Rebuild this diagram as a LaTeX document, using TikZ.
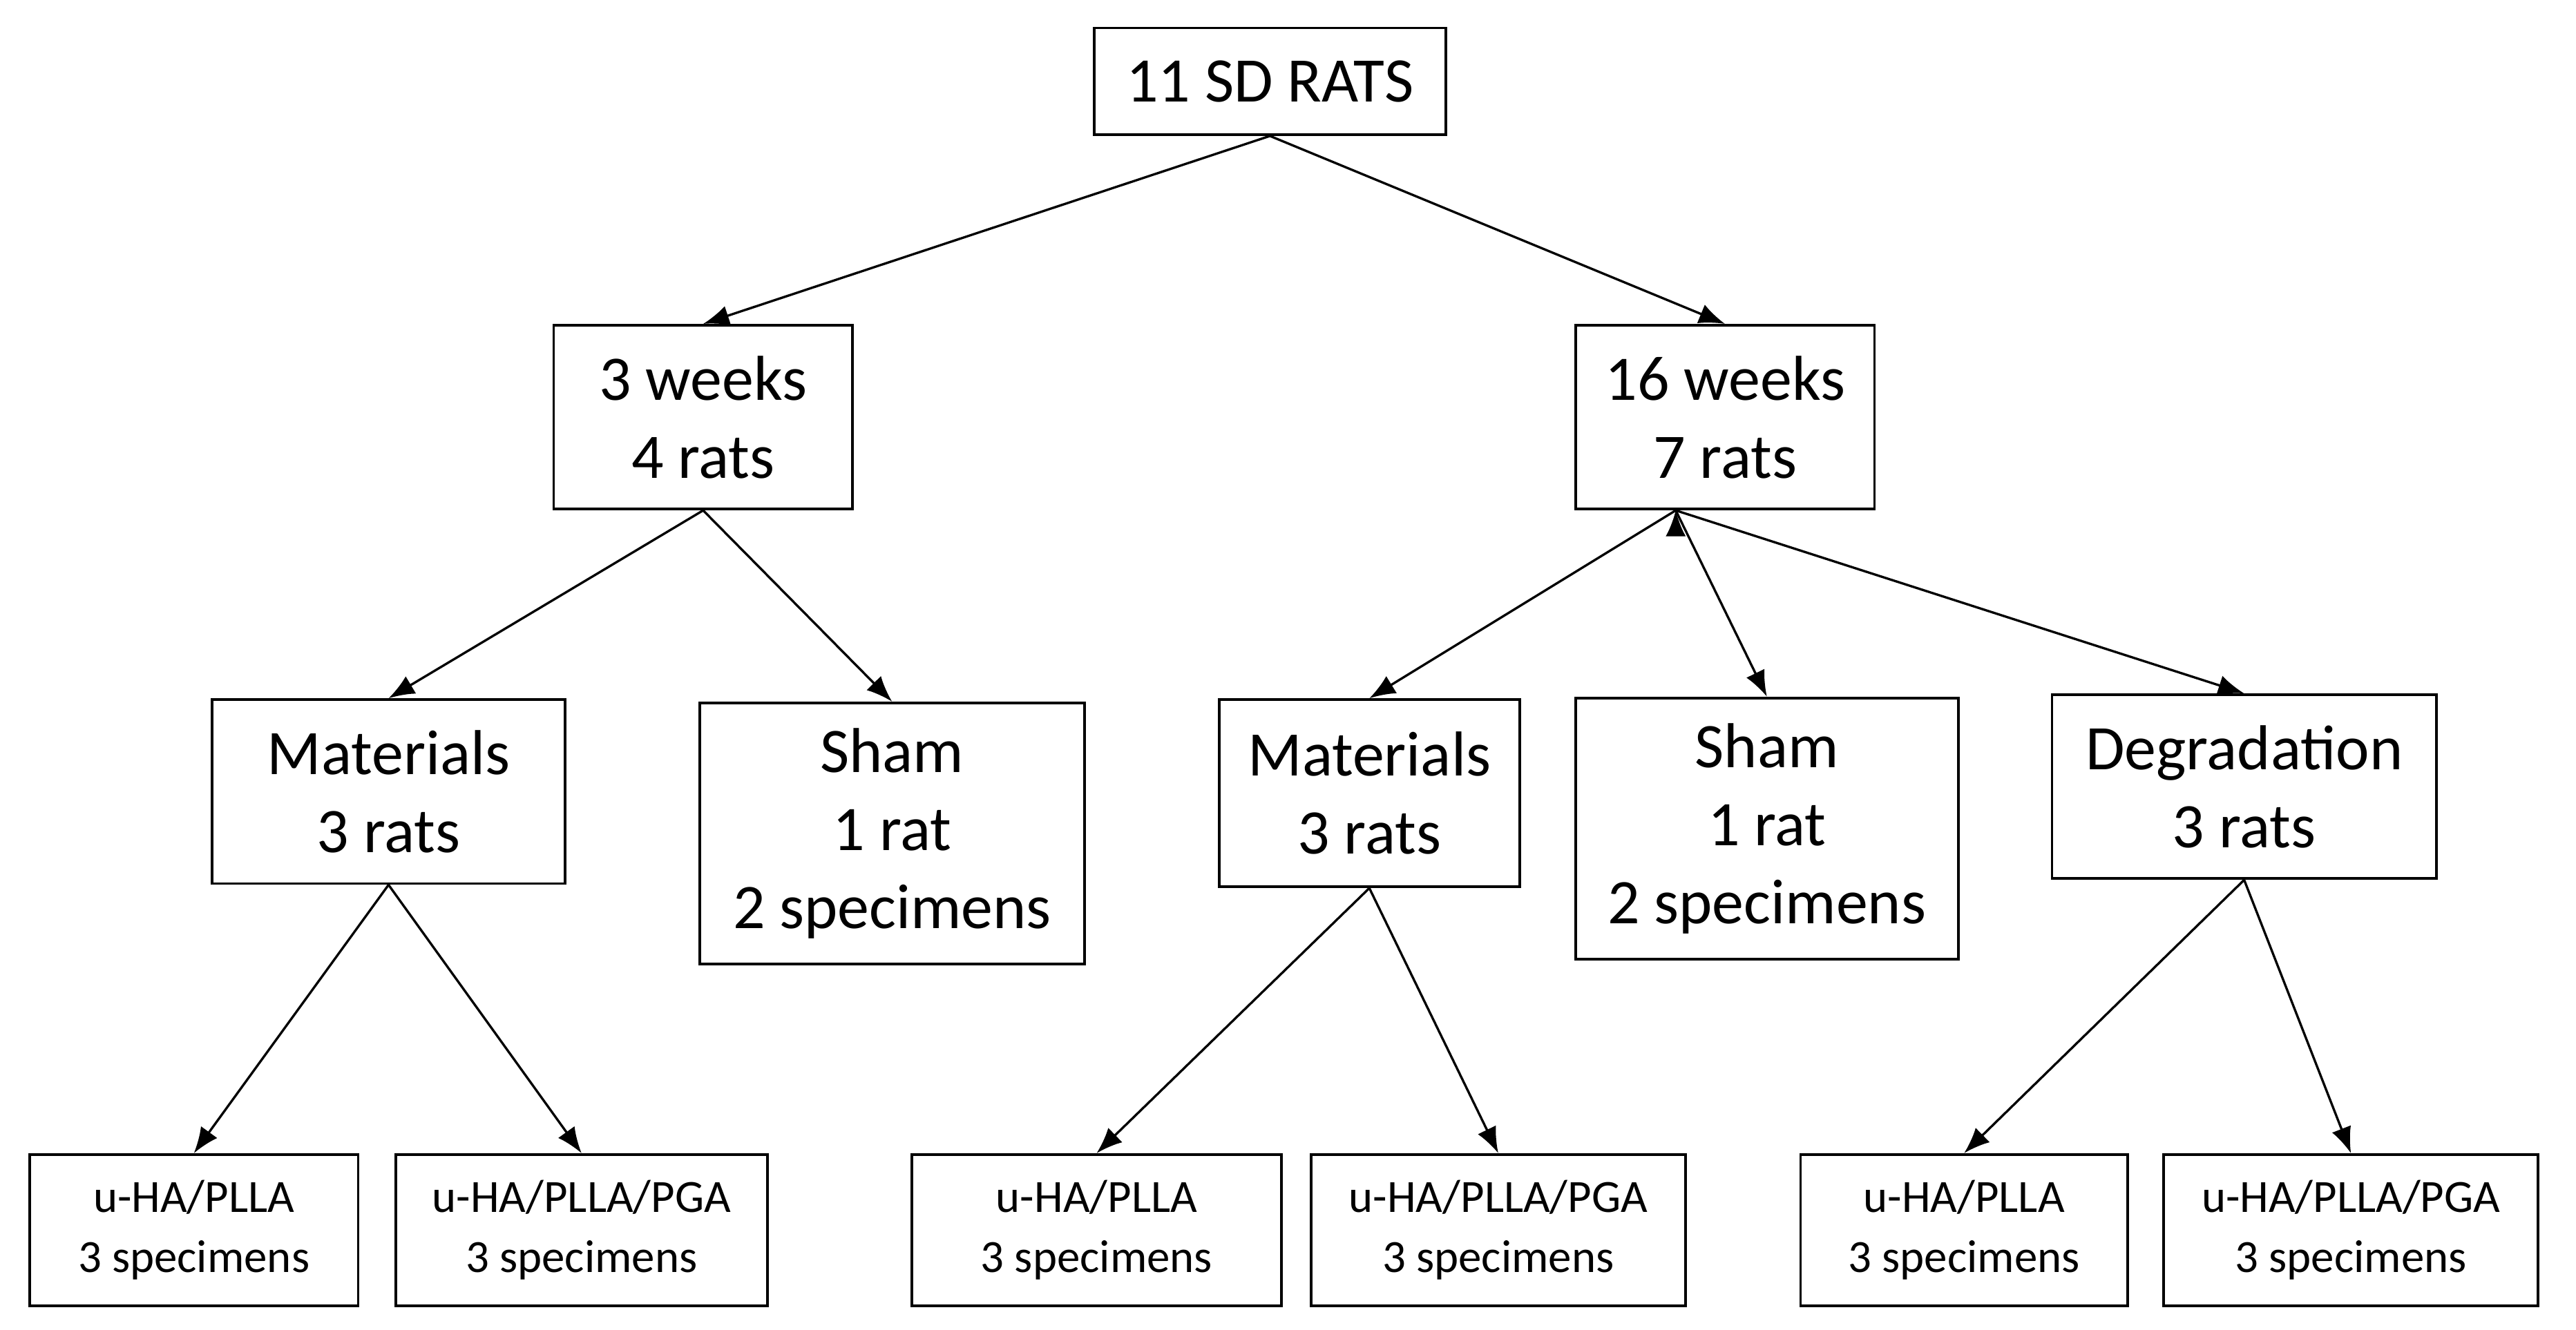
\documentclass[tikz,border=0pt]{standalone}
\usepackage{fontspec}
\setmainfont{Carlito}
\usetikzlibrary{arrows.meta}
\begin{document}
\begin{tikzpicture}[x=0.02cm,y=-0.02cm,
  box/.style 2 args={draw,line width=0.9pt,inner sep=0pt,align=center,minimum width=#1*0.02cm,minimum height=#2*0.02cm},
  big/.style={font=\fontsize{22pt}{27pt}\selectfont},
  small/.style={font=\fontsize{16pt}{21pt}\selectfont},
  arr/.style={-{Latex[length=9pt,width=7pt]},line width=0.8pt}]
\useasboundingbox (0,0) rectangle (1568,809.5);
\node[box={214}{65},big] (top) at (773,49.5) {11 SD RATS};
\node[box={182}{112},big] (w3) at (428,254) {3 weeks\\4 rats};
\node[box={182}{112},big] (w16) at (1050,254) {16 weeks\\7 rats};
\node[box={215}{112},big] (ml) at (236.5,482) {Materials\\3 rats};
\node[box={234}{159},big] (sl) at (543,507.5) {Sham\\1 rat\\2 specimens};
\node[box={183}{114},big] (mm) at (833.5,483) {Materials\\3 rats};
\node[box={233}{159},big] (sm) at (1075.5,504.5) {Sham\\1 rat\\2 specimens};
\node[box={234}{112},big] (dg) at (1366,479) {Degradation\\3 rats};
\node[box={200}{92},small] (b1) at (118,749) {u-HA/PLLA\\3 specimens};
\node[box={226}{92},small] (b2) at (354,749) {u-HA/PLLA/PGA\\3 specimens};
\node[box={225}{92},small] (b3) at (667.5,749) {u-HA/PLLA\\3 specimens};
\node[box={228}{92},small] (b4) at (912,749) {u-HA/PLLA/PGA\\3 specimens};
\node[box={199}{92},small] (b5) at (1195.5,749) {u-HA/PLLA\\3 specimens};
\node[box={228}{92},small] (b6) at (1431,749) {u-HA/PLLA/PGA\\3 specimens};
\draw[arr] (top.south) -- (w3.north);
\draw[arr] (top.south) -- (w16.north);
\draw[arr] (w3.south) -- (ml.north);
\draw[arr] (w3.south) -- (sl.north);
\draw[arr] (w16.south) ++(-30,0) coordinate (w16s);
\draw[arr] (w16s) -- (mm.north);
\draw[arr] (w16s) -- (sm.north);
\draw[arr] (w16s) -- (dg.north);
\draw[arr] (ml.south) -- (b1.north);
\draw[arr] (ml.south) -- (b2.north);
\draw[arr] (mm.south) -- (b3.north);
\draw[arr] (mm.south) -- (b4.north);
\draw[arr] (dg.south) -- (b5.north);
\draw[arr] (dg.south) -- (b6.north);
\end{tikzpicture}
\end{document}
